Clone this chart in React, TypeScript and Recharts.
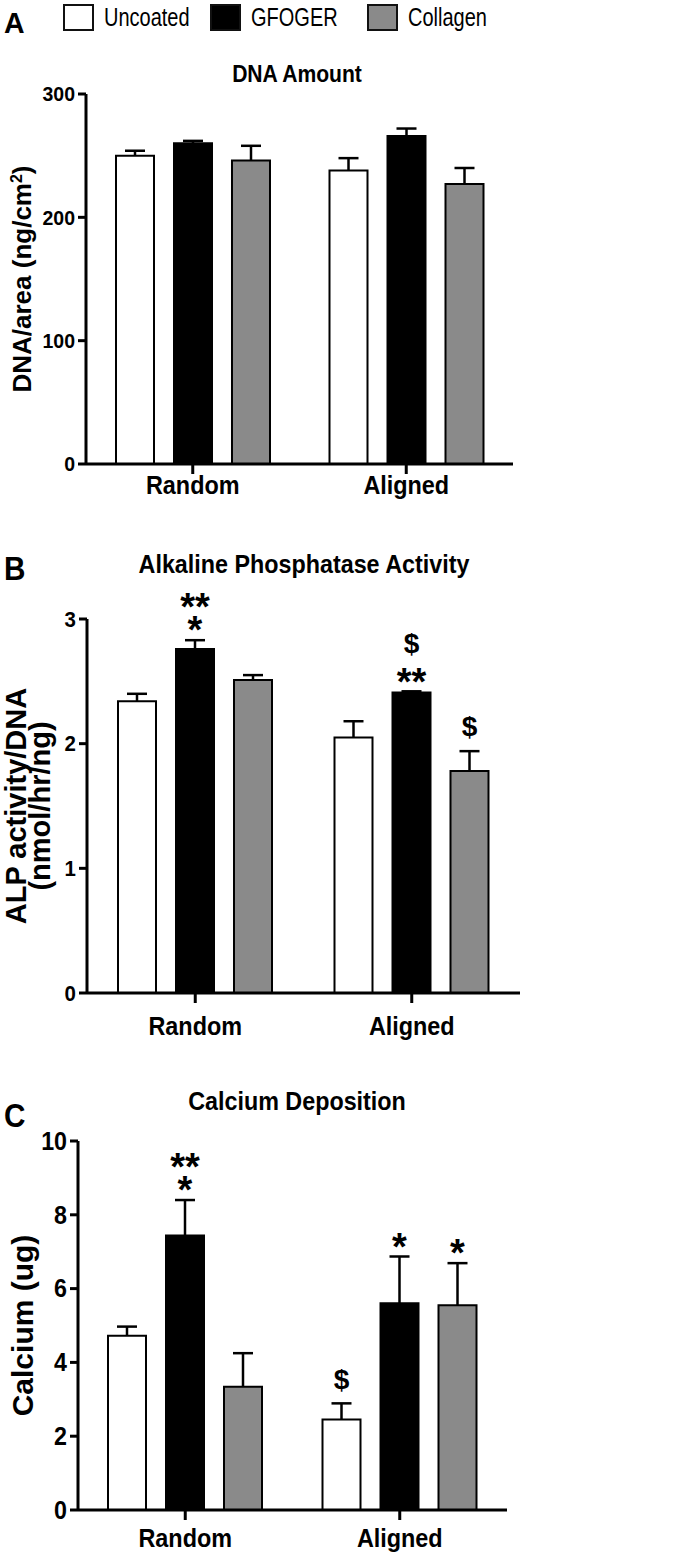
import React from 'react'
import { BarChart, Bar, XAxis, YAxis, Legend, LabelList } from 'recharts'

const groups = ['Random', 'Aligned']
const seriesKeys = ['uncoated', 'gfoger', 'collagen']
const seriesNames = ['Uncoated', 'GFOGER', 'Collagen']
const seriesColors = ['#ffffff', '#000000', '#8a8a8a']

// A - DNA amount (ng/cm2)
const dnaUncoated = [250, 238]
const dnaUncoatedErr = [4, 10]
const dnaGfoger = [260, 266]
const dnaGfogerErr = [2, 6]
const dnaCollagen = [246, 227]
const dnaCollagenErr = [12, 13]
const dnaTicks = [0, 100, 200, 300]

// B - ALP activity / DNA
const alpUncoated = [2.34, 2.05]
const alpUncoatedErr = [0.06, 0.13]
const alpGfoger = [2.76, 2.41]
const alpGfogerErr = [0.07, 0.01]
const alpCollagen = [2.51, 1.78]
const alpCollagenErr = [0.04, 0.16]
const alpTicks = [0, 1, 2, 3]
const alpUncoatedSig = ['', '']
const alpGfogerSig = ['**\n*', '$\n**']
const alpCollagenSig = ['', '$']

// C - calcium (ug)
const caUncoated = [4.72, 2.45]
const caUncoatedErr = [0.25, 0.44]
const caGfoger = [7.44, 5.6]
const caGfogerErr = [0.96, 1.27]
const caCollagen = [3.34, 5.55]
const caCollagenErr = [0.91, 1.14]
const caTicks = [0, 2, 4, 6, 8, 10]
const caUncoatedSig = ['', '$']
const caGfogerSig = ['**\n*', '*']
const caCollagenSig = ['', '*']

const noSig = ['', '']

function buildRows(vals: number[][], errs: number[][], sigs: string[][]) {
  return groups.map((g, i) => {
    const row: any = { group: g }
    seriesKeys.forEach((k, s) => {
      row[k] = vals[s][i]
      row[k + 'Err'] = errs[s][i]
      row[k + 'Sig'] = sigs[s][i]
    })
    return row
  })
}

const dnaRows = buildRows(
  [dnaUncoated, dnaGfoger, dnaCollagen],
  [dnaUncoatedErr, dnaGfogerErr, dnaCollagenErr],
  [noSig, noSig, noSig],
)
const alpRows = buildRows(
  [alpUncoated, alpGfoger, alpCollagen],
  [alpUncoatedErr, alpGfogerErr, alpCollagenErr],
  [alpUncoatedSig, alpGfogerSig, alpCollagenSig],
)
const caRows = buildRows(
  [caUncoated, caGfoger, caCollagen],
  [caUncoatedErr, caGfogerErr, caCollagenErr],
  [caUncoatedSig, caGfogerSig, caCollagenSig],
)

const FONT = "'Liberation Sans', Arial, sans-serif"

// the figure uses a narrow grotesque, so squeeze Arial-ish text a little
function CText({ x, y, size, sx = 0.88, anchor = 'start', weight = 'bold', dy, rotate, children }: any) {
  const rot = rotate ? ` rotate(${rotate})` : ''
  return (
    <text
      transform={`translate(${x},${y})${rot} scale(${sx},1)`}
      textAnchor={anchor}
      fontSize={size}
      fontWeight={weight}
      fontFamily={FONT}
      dy={dy}
      fill="#000"
    >
      {children}
    </text>
  )
}

function ErrorWhisker(props: any) {
  const { x, y, width, height } = props
  if (x == null || y == null) return null
  const cx = x + width / 2
  return (
    <g>
      <line x1={cx} x2={cx} y1={y + height} y2={y} stroke="#000" strokeWidth={2.5} />
      <line x1={cx - 10} x2={cx + 10} y1={y} y2={y} stroke="#000" strokeWidth={2.5} />
    </g>
  )
}

// stacks the significance marks upward from the top of the error bar
function SigLabel(props: any) {
  const { x, y, width, value } = props
  if (!value) return null
  const lines = String(value).split('\n')
  const cx = x + width / 2
  let bottom = y - 12
  const spans: any[] = []
  for (let i = lines.length - 1; i >= 0; i--) {
    const star = lines[i].includes('*')
    const size = star ? 38 : 28
    const baseline = star ? bottom + 0.4 * size : bottom - 0.1 * size
    const top = baseline - (star ? 0.73 : 0.77) * size
    spans.unshift(
      <tspan key={i} x={cx} y={baseline} fontSize={size}>
        {lines[i]}
      </tspan>,
    )
    bottom = top - 11
  }
  return (
    <text textAnchor="middle" fontWeight="bold" fontFamily={FONT} fill="#000">
      {spans}
    </text>
  )
}

function LegendBoxes(props: any) {
  const items = (props.payload || [])
    .filter((p: any) => p.type !== 'none' && seriesNames.includes(p.value))
    .sort((a: any, b: any) => seriesNames.indexOf(a.value) - seriesNames.indexOf(b.value))
  const lefts = [63, 210, 367]
  return (
    <div style={{ position: 'relative', width: 680, height: 36 }}>
      {items.map((p: any, i: number) => (
        <div
          key={p.value}
          style={{ position: 'absolute', left: lefts[i], top: 3, height: 28, display: 'flex', alignItems: 'center' }}
        >
          <span
            style={{
              display: 'inline-block', width: 31, height: 27, boxSizing: 'border-box',
              border: '2px solid #111', background: p.color, marginRight: 10, flex: 'none',
            }}
          />
          <span
            style={{
              fontFamily: FONT, fontSize: 25, color: '#000', lineHeight: '28px', whiteSpace: 'nowrap',
              display: 'inline-block', transform: 'scaleX(0.8)', transformOrigin: 'left center',
            }}
          >
            {p.value}
          </span>
        </div>
      ))}
    </div>
  )
}

type PanelProps = {
  top: number
  rows: any[]
  domain: [number, number]
  ticks: number[]
  margin: { top: number; right: number; bottom: number; left: number }
  xHeight: number
  xTickMargin: number
  yTickSize: number
  yLabel: (cy: number) => React.ReactNode
  legend?: boolean
}

function Panel({ top, rows, domain, ticks, margin, xHeight, xTickMargin, yTickSize, yLabel, legend }: PanelProps) {
  return (
    <div style={{ position: 'absolute', top, left: 0 }}>
      <BarChart width={680} height={520} data={rows} margin={margin} barSize={38} barGap={20}>
        <XAxis
          dataKey="group"
          height={xHeight}
          axisLine={{ stroke: '#000', strokeWidth: 3 }}
          tickLine={{ stroke: '#000', strokeWidth: 3 }}
          tickSize={10}
          tickMargin={xTickMargin}
          tick={(p: any) => (
            <CText x={p.x} y={p.y} dy="0.71em" anchor="middle" size={26} sx={0.9}>
              {p.payload.value}
            </CText>
          )}
        />
        <YAxis
          width={60}
          domain={domain}
          ticks={ticks}
          allowDataOverflow
          axisLine={{ stroke: '#000', strokeWidth: 3 }}
          tickLine={{ stroke: '#000', strokeWidth: 3 }}
          tickSize={8}
          tickMargin={3}
          tick={(p: any) => (
            <CText x={p.x} y={p.y} dy="0.355em" anchor="end" size={yTickSize} sx={0.93}>
              {p.payload.value}
            </CText>
          )}
          label={{ content: (p: any) => yLabel(p.viewBox.y + p.viewBox.height / 2) }}
        />
        {legend && (
          <Legend
            layout="horizontal"
            verticalAlign="middle"
            align="center"
            wrapperStyle={{ top: 0, left: 0, width: 680, height: 36 }}
            content={LegendBoxes}
          />
        )}
        {seriesKeys.map((k, i) => (
          <Bar
            key={k}
            dataKey={k}
            name={seriesNames[i]}
            stackId={k}
            fill={seriesColors[i]}
            stroke="#000"
            strokeWidth={2}
            isAnimationActive={false}
          />
        ))}
        {seriesKeys.map((k) => (
          <Bar
            key={k + 'Err'}
            dataKey={k + 'Err'}
            stackId={k}
            legendType="none"
            shape={ErrorWhisker}
            isAnimationActive={false}
          >
            <LabelList dataKey={k + 'Sig'} content={SigLabel} />
          </Bar>
        ))}
      </BarChart>
    </div>
  )
}

export default function App() {
  return (
    <div style={{ position: 'absolute', top: 0, left: 0, width: 680, height: 1560, background: '#fff', fontFamily: FONT }}>
      <Panel
        top={0}
        rows={dnaRows}
        domain={[0, 300]}
        ticks={dnaTicks}
        margin={{ top: 94, right: 167, bottom: 6, left: 26 }}
        xHeight={50}
        xTickMargin={2}
        yTickSize={21}
        legend
        yLabel={(cy) => (
          <CText x={31} y={cy} rotate={-90} anchor="middle" size={26} sx={1}>
            DNA/area (ng/cm<tspan dy={-9} fontSize={16}>2</tspan><tspan dy={9}>)</tspan>
          </CText>
        )}
      />
      <Panel
        top={520}
        rows={alpRows}
        domain={[0, 3]}
        ticks={alpTicks}
        margin={{ top: 99, right: 160, bottom: 2, left: 27 }}
        xHeight={45}
        xTickMargin={14}
        yTickSize={22}
        yLabel={(cy) => (
          <g>
            <CText x={26} y={cy} rotate={-90} anchor="middle" size={29} sx={1}>
              ALP activity/DNA
            </CText>
            <CText x={50} y={cy} rotate={-90} anchor="middle" size={29} sx={1}>
              (nmol/hr/ng)
            </CText>
          </g>
        )}
      />
      <Panel
        top={1040}
        rows={caRows}
        domain={[0, 10]}
        ticks={caTicks}
        margin={{ top: 101, right: 173, bottom: 2, left: 18 }}
        xHeight={48}
        xTickMargin={9}
        yTickSize={25}
        yLabel={(cy) => (
          <CText x={33} y={cy} rotate={-90} anchor="middle" size={30} sx={1}>
            Calcium (ug)
          </CText>
        )}
      />
      <svg width={680} height={1560} style={{ position: 'absolute', top: 0, left: 0, pointerEvents: 'none' }}>
        <CText x={4} y={33} size={30} sx={0.95}>A</CText>
        <CText x={297} y={82} size={24} anchor="middle">DNA Amount</CText>
        <CText x={4} y={580} size={33} sx={0.9}>B</CText>
        <CText x={304} y={573} size={26.5} anchor="middle">Alkaline Phosphatase Activity</CText>
        <CText x={4} y={1127} size={33} sx={0.9}>C</CText>
        <CText x={297} y={1110} size={26.5} anchor="middle">Calcium Deposition</CText>
      </svg>
    </div>
  )
}
